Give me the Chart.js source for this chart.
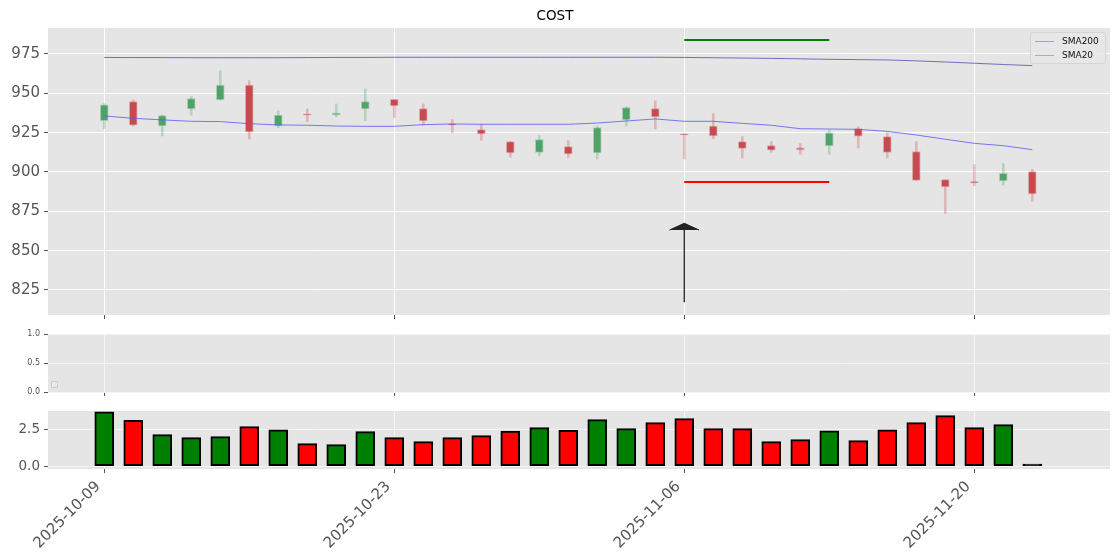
<!DOCTYPE html>
<html>
<head>
<meta charset="utf-8">
<script src="https://cdn.jsdelivr.net/npm/chart.js@4"></script>
<style>
  body { margin: 0; background: #fff; font-family: 'DejaVu Sans', sans-serif; }
  #wrap { position: relative; width: 1120px; height: 560px; overflow: hidden; }
  canvas { position: absolute; left: 0; }
  #legend { position: absolute; left: 1030px; top: 32px; width: 74px; height: 30px;
    border: 1px solid #d4d4d4; border-radius: 3px; background: rgba(232,232,232,0.85);
    font-size: 9px; color: #111; }
  #legend div { position: relative; height: 14px; line-height: 14px; padding-left: 31px; }
  #legend span { position: absolute; left: 4px; top: 7px; width: 19px; height: 0; border-top: 1.5px solid; }
  #blank { position: absolute; left: 51px; top: 381px; width: 5px; height: 5px;
    border: 1px solid #cdcdcd; border-radius: 1px; background: #e9e9e9; }
</style>
</head>
<body>
<div id="wrap">
  <canvas id="main" width="1120" height="320" style="top:0"></canvas>
  <canvas id="mid" width="1120" height="80" style="top:320px"></canvas>
  <canvas id="vol" width="1120" height="160" style="top:400px"></canvas>
  <div id="legend">
    <div style="margin-top:1px"><span style="border-color:rgba(110,110,190,0.6)"></span>SMA200</div>
    <div><span style="border-color:rgba(120,120,240,0.6)"></span>SMA20</div>
  </div>
  <div id="blank"></div>
</div>
<script>
// trading days
const dates = ['2025-10-09','2025-10-10','2025-10-13','2025-10-14','2025-10-15','2025-10-16','2025-10-17',
  '2025-10-20','2025-10-21','2025-10-22','2025-10-23','2025-10-24','2025-10-27','2025-10-28','2025-10-29',
  '2025-10-30','2025-10-31','2025-11-03','2025-11-04','2025-11-05','2025-11-06','2025-11-07','2025-11-10',
  '2025-11-11','2025-11-12','2025-11-13','2025-11-14','2025-11-17','2025-11-18','2025-11-19','2025-11-20',
  '2025-11-21','2025-11-24'];

const opens  = [932.6,944.7,929.2,940.0,945.8,955.3,929.2,936.8,936.3,940.0,946.2,940.3,930.5,926.9,919.3,912.5,916.1,
  912.1,933.1,940.3,924.2,929.2,919.3,916.7,915.3,916.5,927.5,922.5,912.9,895.1,893.9,894.3,900.2];
const highs  = [943.5,945.8,936.2,947.9,964.4,958.1,938.8,940.0,943.2,952.8,946.2,943.2,933.3,930.5,919.3,923.1,919.9,
  929.2,941.5,945.3,924.2,937.1,922.5,919.3,918.0,926.7,928.8,925.0,919.3,895.1,904.7,905.3,901.7];
const lows   = [927.5,929.2,922.9,936.0,945.8,921.0,928.2,932.0,935.2,932.6,934.5,929.9,925.0,920.3,909.5,910.2,909.3,
  908.3,929.2,927.3,908.3,921.2,908.9,912.5,911.3,911.3,915.3,908.9,894.7,873.7,891.3,891.7,881.4];
const closes = [942.6,929.7,935.8,946.6,955.3,925.4,936.2,936.2,937.5,944.7,941.9,932.4,929.9,924.2,912.1,920.6,911.4,
  928.2,940.9,935.0,923.7,922.9,915.0,913.8,914.0,924.8,922.7,912.5,894.7,890.5,893.1,899.2,886.0];

const sma20  = [935.6,934.1,933.1,932.2,932.0,930.7,929.9,929.7,929.2,929.0,929.0,930.1,930.5,930.3,930.3,930.3,930.3,
  931.1,932.4,933.7,932.2,932.2,930.9,929.7,927.5,927.3,927.1,925.8,923.5,920.8,918.2,916.7,914.2];
const sma200 = [972.8,972.7,972.7,972.6,972.6,972.6,972.6,972.7,972.8,972.8,972.9,972.9,972.9,972.9,972.9,972.9,972.9,
  972.9,972.9,972.9,972.8,972.6,972.4,972.2,971.9,971.6,971.4,971.2,970.6,969.9,969.1,968.3,967.6];

// volume (millions)
const volumes = [3.76,3.17,2.18,1.97,2.04,2.73,2.52,1.56,1.49,2.39,1.97,1.70,1.97,2.11,2.43,2.66,2.48,
  3.21,2.60,3.01,3.28,2.60,2.60,1.70,1.84,2.45,1.77,2.52,3.01,3.49,2.66,2.87,0.15];

// level lines and signal arrow
const levelX = [20, 25];
const upperLevel = 983.9;
const lowerLevel = 893.6;
const arrowX = [20, 20];
const arrowY = [817.2, 863.1];
const headX = [19.49, 20, 20.51];
const headY = [863.1, 867.4, 863.1];

const xTicks = [0, 10, 20, 30];
const priceTicks = [825, 850, 875, 900, 925, 950, 975];
const midTicks = [0, 0.5, 1];
const volTicks = [0, 2.5];

Chart.defaults.font.family = "'DejaVu Sans', sans-serif";
Chart.defaults.color = '#555';
Chart.defaults.animation = false;

const up = dates.map((d, i) => closes[i] >= opens[i]);

const bgPlugin = {
  id: 'bg',
  beforeDraw(c) {
    const a = c.chartArea, ctx = c.ctx;
    ctx.save();
    ctx.fillStyle = '#e5e5e5';
    ctx.fillRect(a.left, a.top, a.right - a.left, a.bottom - a.top);
    ctx.restore();
  }
};

function xAxis(h, labels, gridColor) {
  return {
    type: 'linear', min: -1.94, max: 34.68, offset: false,
    afterBuildTicks: s => { s.ticks = xTicks.map(v => ({ value: v })); },
    afterFit: s => { s.height = h; s.paddingLeft = 0; s.paddingRight = 0; },
    grid: { color: gridColor, lineWidth: 1, offset: false, tickLength: 4, tickColor: '#555' },
    border: { display: false },
    ticks: { display: labels, autoSkip: false, minRotation: 45, maxRotation: 45, padding: 5, labelOffset: -6,
      font: { size: 15 }, color: '#555', callback: v => dates[v] }
  };
}

function yAxis(min, max, ticks, size, gridColor, fmt) {
  return {
    min: min, max: max,
    afterBuildTicks: s => { s.ticks = ticks.map(v => ({ value: v })); },
    afterFit: s => { s.width = 48; s.paddingTop = 0; s.paddingBottom = 0; },
    grid: { color: gridColor, lineWidth: 1, tickLength: 4, tickColor: '#555' },
    border: { display: false },
    ticks: { font: { size: size }, color: '#555', padding: 4, callback: fmt }
  };
}

const noPlugins = { legend: { display: false }, tooltip: { enabled: false } };

// price panel
new Chart(document.getElementById('main'), {
  type: 'bar',
  data: {
    datasets: [
      { type: 'line', data: dates.map((d, i) => ({ x: i, y: sma200[i] })), borderColor: 'rgba(70,70,175,0.75)',
        borderWidth: 1, pointRadius: 0, order: 0 },
      { type: 'line', data: dates.map((d, i) => ({ x: i, y: sma20[i] })), borderColor: 'rgba(90,90,245,0.8)',
        borderWidth: 1, pointRadius: 0, order: 0 },
      { type: 'line', data: levelX.map(x => ({ x: x, y: upperLevel })), borderColor: '#008000',
        borderWidth: 2, pointRadius: 0, order: 0 },
      { type: 'line', data: levelX.map(x => ({ x: x, y: lowerLevel })), borderColor: '#ff0000',
        borderWidth: 2, pointRadius: 0, order: 0 },
      { type: 'line', data: arrowX.map((x, i) => ({ x: x, y: arrowY[i] })), borderColor: '#222',
        borderWidth: 1.3, pointRadius: 0, order: 0 },
      { type: 'line', data: headX.map((x, i) => ({ x: x, y: headY[i] })), borderColor: '#222',
        backgroundColor: '#222', borderWidth: 1, pointRadius: 0, fill: { value: headY[0] }, order: 0 },
      { data: dates.map((d, i) => ({ x: i, y: [opens[i], closes[i]] })),
        backgroundColor: up.map(u => u ? '#4fa367' : '#c8494f'),
        borderColor: up.map(u => u ? 'rgba(79,163,103,0.35)' : 'rgba(200,73,79,0.35)'),
        borderWidth: 1, borderSkipped: false, barThickness: 8, grouped: false, order: 2 },
      { data: dates.map((d, i) => ({ x: i, y: [lows[i], highs[i]] })),
        backgroundColor: up.map(u => u ? 'rgba(79,163,103,0.3)' : 'rgba(200,73,79,0.3)'),
        barThickness: 2, grouped: false, order: 3 }
    ]
  },
  options: {
    responsive: false,
    layout: { padding: { right: 10, bottom: 0 } },
    plugins: Object.assign({
      title: { display: true, text: 'COST', color: '#000', font: { size: 13.5, weight: 'normal' },
        padding: { top: 8, bottom: 3.8 } }
    }, noPlugins),
    scales: {
      x: xAxis(5, false, '#ffffff'),
      y: yAxis(809.1, 991.5, priceTicks, 15, '#ffffff', v => String(v))
    }
  },
  plugins: [bgPlugin]
});

// empty indicator panel
new Chart(document.getElementById('mid'), {
  type: 'line',
  data: { datasets: [] },
  options: {
    responsive: false,
    layout: { padding: { top: 14, right: 10 } },
    plugins: noPlugins,
    scales: {
      x: xAxis(8, false, '#f4f4f4'),
      y: yAxis(0, 1, midTicks, 8, '#f4f4f4', v => v.toFixed(1))
    }
  },
  plugins: [bgPlugin]
});

// volume panel (a bar too thin to show its fill is all edge)
new Chart(document.getElementById('vol'), {
  type: 'bar',
  data: {
    datasets: [{
      data: dates.map((d, i) => ({ x: i, y: volumes[i] })),
      backgroundColor: up.map((u, i) => volumes[i] < 0.3 ? '#000' : (u ? '#008000' : '#ff0000')),
      borderColor: '#000', borderWidth: 2, borderSkipped: false, barThickness: 19
    }]
  },
  options: {
    responsive: false,
    layout: { padding: { top: 11, right: 10 } },
    plugins: noPlugins,
    scales: {
      x: xAxis(91, true, 'rgba(255,255,255,0.6)'),
      y: yAxis(-0.19, 3.81, volTicks, 13.5, 'rgba(255,255,255,0.6)', v => v.toFixed(1))
    }
  },
  plugins: [bgPlugin]
});
</script>
</body>
</html>
